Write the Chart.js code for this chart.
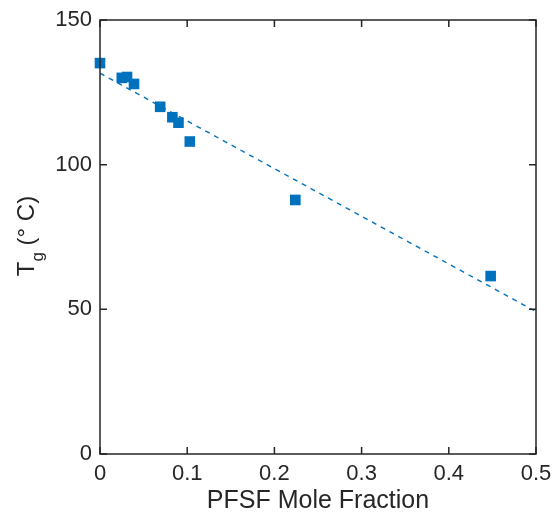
<!DOCTYPE html>
<html><head><meta charset="utf-8">
<script src="https://cdn.jsdelivr.net/npm/chart.js@4"></script>
<style>html,body{margin:0;padding:0;background:#fff}#w{width:555px;height:516px}</style>
</head><body><div id="w"><canvas id="c"></canvas></div>
<script>
const moleFraction = [0, 0.025, 0.031, 0.039, 0.069, 0.083, 0.090, 0.103, 0.224, 0.448];
const tgValues = [135.1, 130.0, 130.3, 127.9, 120.0, 116.4, 114.5, 108.0, 87.8, 61.5];
const fitX = [0, 0.5];
const fitY = [131.6, 49.2];
const xTicks = [0, 0.1, 0.2, 0.3, 0.4, 0.5];
const yTicks = [0, 50, 100, 150];

const ink = '#262626';
const blue = '#0072BD';
const fontFam = '"Liberation Sans", Arial, sans-serif';

const boxTicks = {
  id: 'boxTicks',
  afterDatasetsDraw(chart) {
    const {ctx, chartArea: a, scales: {x, y}} = chart;
    ctx.save();
    ctx.strokeStyle = ink; ctx.lineWidth = 1.5;
    ctx.strokeRect(a.left, a.top, a.right - a.left, a.bottom - a.top);
    const L = 7;
    ctx.beginPath();
    xTicks.forEach(v => { const px = x.getPixelForValue(v);
      ctx.moveTo(px, a.bottom); ctx.lineTo(px, a.bottom - L);
      ctx.moveTo(px, a.top); ctx.lineTo(px, a.top + L); });
    yTicks.forEach(v => { const py = y.getPixelForValue(v);
      ctx.moveTo(a.left, py); ctx.lineTo(a.left + L, py);
      ctx.moveTo(a.right, py); ctx.lineTo(a.right - L, py); });
    ctx.stroke();
    ctx.restore();
  },
  afterDraw(chart) {
    const {ctx} = chart;
    ctx.save();
    ctx.fillStyle = ink;
    ctx.translate(34, 236);
    ctx.rotate(-Math.PI / 2);
    ctx.textBaseline = 'alphabetic';
    ctx.textAlign = 'left';
    const f1 = '24px ' + fontFam, f2 = '17px ' + fontFam;
    ctx.font = f1; const wT = ctx.measureText('T').width;
    ctx.font = f2; const wg = ctx.measureText('g').width;
    ctx.font = f1; const wR = ctx.measureText(' (\u00B0 C)').width;
    const total = wT + wg + wR;
    let cx = -total / 2;
    ctx.font = f1; ctx.fillText('T', cx, 0); cx += wT;
    ctx.font = f2; ctx.fillText('g', cx, 9); cx += wg;
    ctx.font = f1; ctx.fillText(' (\u00B0 C)', cx, 0);
    ctx.restore();
  }
};

new Chart(document.getElementById('c'), {
  type: 'scatter',
  data: {
    datasets: [
      { label: 'Tg', data: moleFraction.map((v, i) => ({x: v, y: tgValues[i]})),
        pointStyle: 'rect', pointRadius: 7.5, backgroundColor: blue, borderColor: blue, borderWidth: 0, order: 1, clip: false },
      { label: 'fit', type: 'line', data: fitX.map((v, i) => ({x: v, y: fitY[i]})),
        borderColor: blue, borderWidth: 1.4, borderDash: [5, 5], pointRadius: 0, fill: false, order: 2 }
    ]
  },
  options: {
    responsive: true, maintainAspectRatio: false, animation: false,
    layout: { padding: { top: 20, right: 19, left: 0, bottom: 0 } },
    plugins: { legend: { display: false }, tooltip: { enabled: false } },
    scales: {
      x: { type: 'linear', min: 0, max: 0.5,
        afterBuildTicks: s => { s.ticks = xTicks.map(v => ({value: v})); },
        afterFit: s => { s.height = 62; s.paddingRight = 0; s.paddingLeft = 0; },
        grid: { drawOnChartArea: false, drawTicks: false },
        border: { display: false },
        ticks: { color: ink, font: { family: fontFam, size: 22 }, padding: 7, maxRotation: 0,
          callback: v => String(v) },
        title: { display: true, text: 'PFSF Mole Fraction', color: ink, font: { family: fontFam, size: 25 }, padding: { top: 0, bottom: 0 } }
      },
      y: { type: 'linear', min: 0, max: 150,
        afterBuildTicks: s => { s.ticks = yTicks.map(v => ({value: v})); },
        afterFit: s => { s.width = 100; s.paddingTop = 0; s.paddingBottom = 0; },
        grid: { drawOnChartArea: false, drawTicks: false },
        border: { display: false },
        ticks: { color: ink, font: { family: fontFam, size: 22 }, padding: 8 }
      }
    }
  },
  plugins: [boxTicks]
});
</script>
</body></html>
